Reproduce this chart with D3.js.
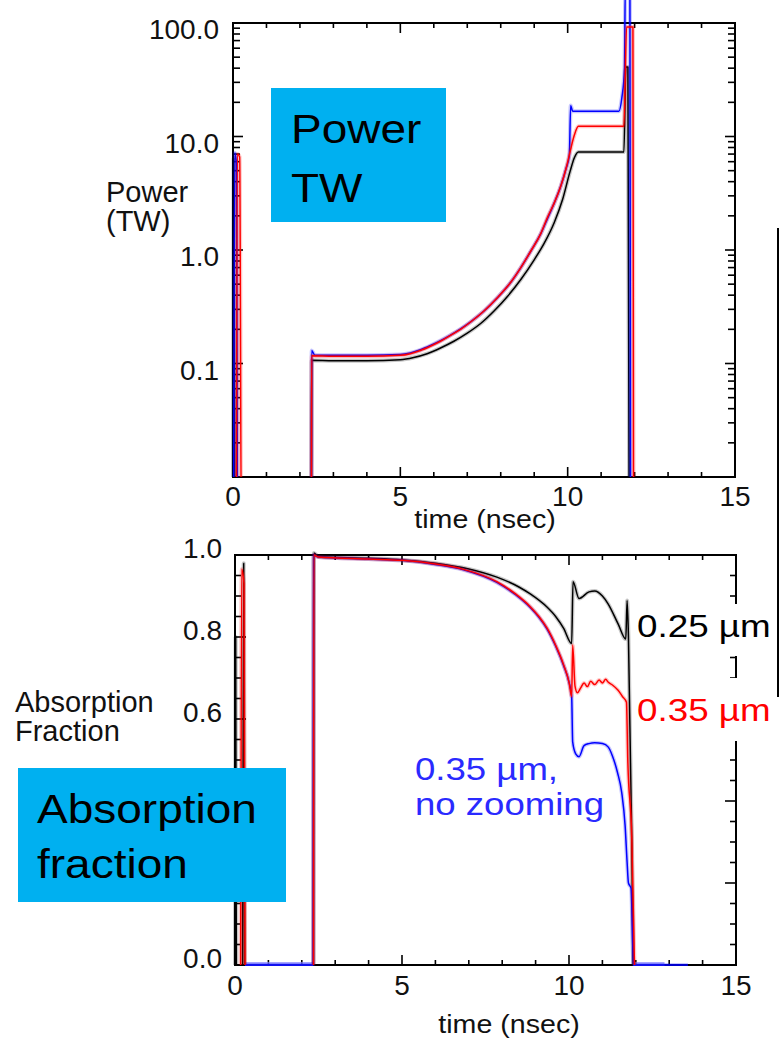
<!DOCTYPE html>
<html><head><meta charset="utf-8">
<script src="https://cdn.jsdelivr.net/npm/d3@7"></script>
<style>body{margin:0;background:#fff} svg{display:block} text{font-family:"Liberation Sans",Arial,sans-serif}</style>
</head><body><svg id="c" width="779" height="1053"></svg>
<script>
// ---------- ticks ----------
const timeMajorTicks=[0,5,10,15];
const timeTickLabels=["0","5","10","15"];
const timeMinorTicks=[1,2,3,4,6,7,8,9,11,12,13,14];
const powerTicks=[100,10,1,0.1];
const powerTickLabels=["100.0","10.0","1.0","0.1"];
const absTicks=[1.0,0.8,0.6,0.4,0.2,0.0];
const absLabelTicks=[1.0,0.8,0.6,0.0];          // 0.4 and 0.2 are hidden by the slide box
const absTickLabels=["1.0","0.8","0.6","0.0"];

// ---------- power (TW) vs time (ns) ----------
const powerBlack=[[0.0,0.003],[0.02,6.5],[0.06,0.003],[2.34,0.003],[2.35,0.107],[3.0,0.106],[4.0,0.106],[5.0,0.108],[5.4,0.113],[5.8,0.122],[6.2,0.137],[6.6,0.157],[7.0,0.185],[7.4,0.225],[7.8,0.29],[8.2,0.39],[8.6,0.55],[9.0,0.82],[9.3,1.15],[9.6,1.75],[9.85,2.8],[10.07,4.9],[10.2,6.5],[10.32,7.3],[11.0,7.3],[11.68,7.3],[11.74,41],[11.8,41],[11.84,0.003]];
const powerBlue=[[0.02,0.003],[0.05,7.2],[0.10,6.0],[0.14,0.003],[2.34,0.003],[2.35,0.13],[2.45,0.118],[3.0,0.118],[4.0,0.118],[5.0,0.12],[5.3,0.124],[5.6,0.132],[5.9,0.144],[6.2,0.159],[6.5,0.178],[6.8,0.202],[7.1,0.233],[7.5,0.29],[7.9,0.38],[8.3,0.52],[8.6,0.7],[8.9,0.98],[9.2,1.4],[9.4,1.9],[9.6,2.6],[9.8,3.7],[9.95,5.2],[10.05,6.8],[10.09,18.8],[10.15,16.7],[11.0,16.7],[11.53,16.7],[11.62,22],[11.70,40],[11.72,200],[11.86,200],[11.88,0.003]];
const powerRed=[[0.10,0.003],[0.13,7.0],[0.20,6.6],[0.25,0.003],[2.34,0.003],[2.35,0.117],[3.0,0.116],[4.0,0.116],[5.0,0.118],[5.3,0.122],[5.6,0.13],[5.9,0.142],[6.2,0.157],[6.5,0.177],[6.8,0.2],[7.1,0.232],[7.5,0.29],[7.9,0.38],[8.3,0.52],[8.6,0.7],[8.9,0.98],[9.2,1.4],[9.4,1.95],[9.6,2.6],[9.8,3.7],[9.95,5.2],[10.07,7.3],[10.2,10.3],[10.32,12.3],[11.0,12.3],[11.68,12.3],[11.76,92],[11.95,92],[11.97,0.003]];

// ---------- absorption fraction vs time (ns) ----------
const absBlack=[[0.0,0],[0.02,0.8],[0.04,0],[0.05,null],[0.23,0],[0.26,0.98],[0.29,0],[0.3,null],[2.35,0],[2.36,1.005],[2.5,0.996],[4.0,0.992],[5.0,0.988],[6.0,0.98],[7.0,0.966],[7.84,0.946],[8.5,0.922],[8.84,0.905],[9.34,0.873],[9.6,0.85],[9.84,0.821],[10.08,0.784],[10.12,0.935],[10.3,0.894],[10.6,0.91],[10.77,0.912],[11.0,0.9],[11.17,0.881],[11.47,0.832],[11.7,0.795],[11.74,0.889],[11.78,0.8],[11.88,0.3],[11.92,0]];
const absBlue=[[0.3,0],[2.34,0],[2.35,1.0],[2.5,0.995],[4.0,0.99],[5.0,0.987],[6.0,0.977],[6.84,0.964],[7.84,0.933],[8.4,0.903],[8.84,0.872],[9.1,0.848],[9.34,0.82],[9.6,0.778],[9.84,0.73],[10.0,0.69],[10.08,0.655],[10.11,0.544],[10.2,0.515],[10.3,0.508],[10.45,0.535],[10.6,0.54],[10.77,0.542],[11.0,0.54],[11.17,0.532],[11.3,0.51],[11.45,0.47],[11.58,0.42],[11.68,0.34],[11.74,0.25],[11.78,0.2],[11.86,0.187],[11.93,0],[13.56,0]];
const absRed=[[0.17,0],[0.2,0.965],[0.27,0.93],[0.3,0],[0.31,null],[2.35,0],[2.36,1.0],[2.5,0.995],[4.0,0.99],[5.0,0.987],[6.0,0.978],[6.84,0.965],[7.84,0.935],[8.4,0.905],[8.84,0.874],[9.1,0.85],[9.34,0.822],[9.6,0.78],[9.84,0.732],[10.0,0.69],[10.08,0.655],[10.11,0.78],[10.18,0.68],[10.25,0.664],[10.35,0.676],[10.45,0.688],[10.55,0.679],[10.65,0.692],[10.77,0.684],[10.9,0.695],[11.0,0.688],[11.1,0.697],[11.17,0.69],[11.3,0.683],[11.47,0.67],[11.6,0.655],[11.72,0.641],[11.76,0.5],[11.88,0.31],[11.96,0]];
const absBlueZeroBands=[[0.3,2.34],[11.93,12.86]];

const svg=d3.select("#c");
const TXT="#111";

// scales
const xTop=d3.scaleLinear([0,15],[233,735]);
const yPow=d3.scaleLog([0.01,100],[477,23]);
const xBot=d3.scaleLinear([0,15],[235,736]);
const yAbs=d3.scaleLinear([0,1],[965,555]);

function stext(g,x,y,str,fs,sx,fill,anchor){
  g.append("text").attr("transform",`translate(${x},${y}) scale(${sx},1)`)
   .attr("font-size",fs).attr("fill",fill).attr("text-anchor",anchor||"start").text(str);
}

function frame(x,y,majY,minY,majYlen,minYlen){
  const g=svg.append("g");
  const [x0,x1]=x.range(), [yb,yt]=y.range();
  g.append("rect").attr("x",x0).attr("y",yt).attr("width",x1-x0).attr("height",yb-yt)
   .attr("fill","none").attr("stroke","#000").attr("stroke-width",2);
  const seg=(a,b,c,d)=>g.append("line").attr("x1",a).attr("y1",b).attr("x2",c).attr("y2",d).attr("stroke","#000").attr("stroke-width",1.6);
  timeMajorTicks.forEach(t=>{seg(x(t),yb,x(t),yb-10);seg(x(t),yt,x(t),yt+10);});
  timeMinorTicks.forEach(t=>{seg(x(t),yb,x(t),yb-5);seg(x(t),yt,x(t),yt+5);});
  majY.forEach(v=>{seg(x0,y(v),x0+majYlen,y(v));seg(x1,y(v),x1-majYlen,y(v));});
  minY.forEach(v=>{seg(x0,y(v),x0+minYlen,y(v));seg(x1,y(v),x1-minYlen,y(v));});
  return g;
}

// ---- top plot ----
const powMinor=[0.01,0.1,1,10].flatMap(d=>[2,3,4,5,6,7,8,9].map(k=>k*d));
frame(xTop,yPow,powerTicks,powMinor,10,7);
svg.append("clipPath").attr("id","clipTop").append("rect").attr("x",xTop(0)-3).attr("y",-20).attr("width",xTop(15)-xTop(0)+3).attr("height",477+20);
svg.append("clipPath").attr("id","clipBot").append("rect").attr("x",xBot(0)-3).attr("y",540).attr("width",xBot(15)-xBot(0)+3).attr("height",965-540+1);

function drawSeries(clip,x,y,data,color){
  const line=d3.line().defined(d=>d[1]!==null).x(d=>x(d[0])).y(d=>y(d[1])).curve(d3.curveMonotoneX);
  const g=svg.append("g").attr("clip-path",`url(#${clip})`);
  g.append("path").attr("d",line(data)).attr("fill","none").attr("stroke",color).attr("stroke-width",4).attr("stroke-opacity",0.22).attr("stroke-linejoin","round");
  g.append("path").attr("d",line(data)).attr("fill","none").attr("stroke",color).attr("stroke-width",1.5).attr("stroke-linejoin","round");
}
drawSeries("clipTop",xTop,yPow,powerBlack,"#000");
drawSeries("clipTop",xTop,yPow,powerBlue,"#0000ff");
drawSeries("clipTop",xTop,yPow,powerRed,"#ff0000");

const gl=svg.append("g");
powerTicks.forEach((v,i)=>stext(gl,219,yPow(v)+16,powerTickLabels[i],28,1,TXT,"end"));
timeMajorTicks.forEach((t,i)=>stext(gl,xTop(t),506,timeTickLabels[i],28,1,TXT,"middle"));
stext(gl,485,528,"time (nsec)",26,1.1,TXT,"middle");
stext(gl,106,202,"Power",29,1,TXT);
stext(gl,106,231,"(TW)",29,1,TXT);

// ---- bottom plot ----
const absMinor=d3.range(1,20).map(i=>i*0.05).filter(v=>Math.abs(v*5-Math.round(v*5))>1e-6);
frame(xBot,yAbs,absTicks,absMinor,11,6);
const gb=svg.append("g").attr("clip-path","url(#clipBot)");
absBlueZeroBands.forEach(b=>gb.append("line").attr("x1",xBot(b[0])).attr("x2",xBot(b[1])).attr("y1",yAbs(0)-1).attr("y2",yAbs(0)-1).attr("stroke","#8080ff").attr("stroke-width",4).attr("stroke-opacity",0.7));
drawSeries("clipBot",xBot,yAbs,absBlack,"#000");
drawSeries("clipBot",xBot,yAbs,absBlue,"#0000ff");
drawSeries("clipBot",xBot,yAbs,absRed,"#ff0000");

absLabelTicks.forEach((v,i)=>stext(gl,222,yAbs(v)+3,absTickLabels[i],28,1,TXT,"end"));
timeMajorTicks.forEach((t,i)=>stext(gl,xBot(t),995,timeTickLabels[i],28,1,TXT,"middle"));
stext(gl,509,1033,"time (nsec)",26,1.1,TXT,"middle");
stext(gl,15,712,"Absorption",29,1,TXT);
stext(gl,15,741,"Fraction",29,1,TXT);

// right-side annotations (white label boxes hide the axis)
svg.append("rect").attr("x",634).attr("y",604).attr("width",140).attr("height",52).attr("fill","#fff");
svg.append("rect").attr("x",634).attr("y",678).attr("width",140).attr("height",63).attr("fill","#fff");
stext(svg,637,637,"0.25 µm",32,1.15,"#000");
stext(svg,637,721,"0.35 µm",32,1.15,"#ff0000");
stext(svg,415,780,"0.35 µm,",31,1.18,"#2a2aff");
stext(svg,415,815,"no zooming",31,1.18,"#2a2aff");
svg.append("line").attr("x1",778).attr("x2",778).attr("y1",228).attr("y2",697).attr("stroke","#000").attr("stroke-width",2);

// slide label boxes
svg.append("rect").attr("x",271).attr("y",88).attr("width",175).attr("height",134).attr("fill","#00b0f0");
stext(svg,291,143,"Power",40,1.15,"#000");
stext(svg,291,202,"TW",40,1.15,"#000");
svg.append("rect").attr("x",18).attr("y",768).attr("width",268).attr("height",134).attr("fill","#00b0f0");
stext(svg,37,823,"Absorption",40,1.15,"#000");
stext(svg,37,878,"fraction",40,1.15,"#000");
</script></body></html>
